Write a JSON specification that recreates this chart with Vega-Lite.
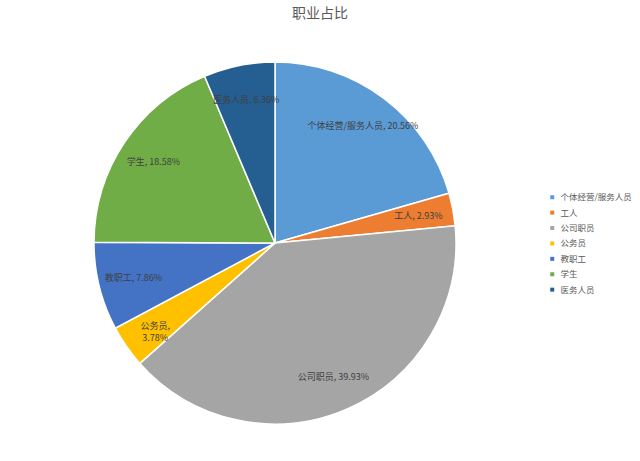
{
  "$schema": "https://vega.github.io/schema/vega-lite/v6.json",
  "autosize": "none",
  "width": 550,
  "height": 400,
  "padding": {"left": 0, "top": 43, "right": 90, "bottom": 18},
  "background": "white",
  "title": {
    "text": "职业占比",
    "anchor": "middle",
    "dx": 45,
    "offset": 22,
    "font": "Noto Sans CJK SC",
    "fontSize": 14,
    "fontWeight": "normal",
    "color": "#595959"
  },
  "data": {
    "values": [
      {"rank": 1, "job": "个体经营/服务人员", "pct": 20.56, "label": "个体经营/服务人员, 20.56%"},
      {"rank": 2, "job": "工人", "pct": 2.93, "label": "工人, 2.93%"},
      {"rank": 3, "job": "公司职员", "pct": 39.93, "label": "公司职员, 39.93%"},
      {"rank": 4, "job": "公务员", "pct": 3.78, "label": "公务员,|3.78%"},
      {"rank": 5, "job": "教职工", "pct": 7.86, "label": "教职工, 7.86%"},
      {"rank": 6, "job": "学生", "pct": 18.58, "label": "学生, 18.58%"},
      {"rank": 7, "job": "医务人员", "pct": 6.36, "label": "医务人员, 6.36%"}
    ]
  },
  "encoding": {
    "theta": {"field": "pct", "type": "quantitative", "stack": true},
    "order": {"field": "rank", "type": "quantitative"}
  },
  "layer": [
    {
      "mark": {"type": "arc", "outerRadius": 181, "stroke": "white", "strokeWidth": 1.5},
      "encoding": {
        "color": {
          "field": "job",
          "type": "nominal",
          "scale": {
            "domain": ["个体经营/服务人员", "工人", "公司职员", "公务员", "教职工", "学生", "医务人员"],
            "range": ["#5B9BD5", "#ED7D31", "#A5A5A5", "#FFC000", "#4472C4", "#70AD47", "#255E91"]
          },
          "legend": {
            "title": null,
            "orient": "none",
            "legendX": 548,
            "legendY": 150,
            "symbolType": "square",
            "symbolSize": 16,
            "symbolStrokeWidth": 0,
            "rowPadding": 6.4,
            "labelFont": "Noto Sans CJK SC",
            "labelFontSize": 8.5,
            "labelColor": "#595959",
            "labelOffset": 4
          }
        }
      }
    },
    {
      "mark": {
        "type": "text",
        "radius": 146,
        "font": "Noto Sans CJK SC",
        "fontSize": 9,
        "lineHeight": 12,
        "color": "#404040",
        "lineBreak": "|"
      },
      "encoding": {
        "text": {"field": "label", "type": "nominal"}
      }
    }
  ]
}
